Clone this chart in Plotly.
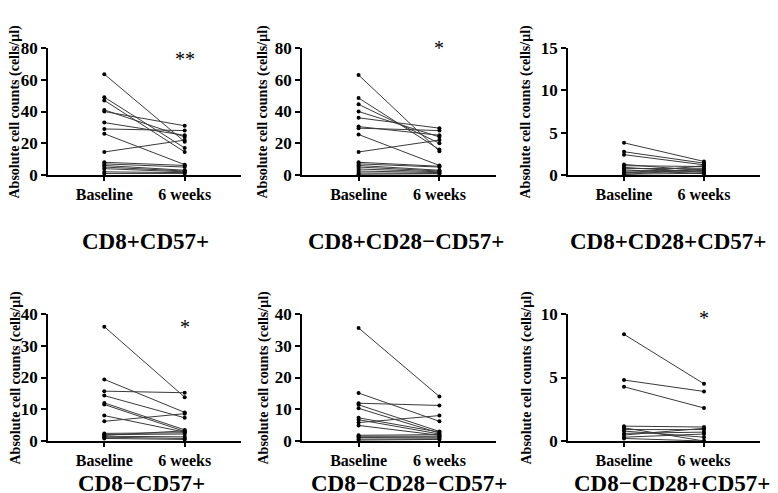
import plotly.graph_objects as go
from plotly.subplots import make_subplots

W, H = 778, 493

# paired counts, baseline vs 6 weeks (cells/ul)
categories = ["Baseline", "6 weeks"]

cd8p_cd57p_base = [63.5, 49, 47, 41, 40, 33, 29, 26, 14.5, 8, 7, 6, 5, 4, 2, 1]
cd8p_cd57p_wk6 = [21, 17, 14.5, 24, 31, 25, 28, 6.5, 22, 6, 5, 3, 2.5, 2, 1.5, 1]

cd8p_cd28n_cd57p_base = [63, 48.5, 44.5, 40, 36, 30.5, 29.5, 25.5, 14.5, 8, 7, 6, 5, 3.8, 2.5, 1.3, 0.5]
cd8p_cd28n_cd57p_wk6 = [15, 16, 20, 24, 29.5, 25, 28, 6, 22, 5.5, 5, 3, 2.5, 2, 1.5, 1, 0.8]

cd8p_cd28p_cd57p_base = [3.8, 2.75, 2.4, 1.25, 1.1, 0.9, 0.75, 0.6, 0.45, 0.3, 0.2, 0.1, 0.05]
cd8p_cd28p_cd57p_wk6 = [1.6, 1.4, 1.2, 0.5, 1.0, 0.3, 0.8, 0.15, 0.6, 0.4, 1.1, 0.2, 0.7]

cd8n_cd57p_base = [36, 19.4, 15.7, 14.3, 12, 11.5, 8, 6.2, 2.4, 2, 1.8, 1.5, 1.2, 0.8]
cd8n_cd57p_wk6 = [13.8, 9, 15.2, 7.3, 3.5, 3, 2.8, 8.6, 2.6, 2.2, 3.2, 1.3, 0.8, 0.5]

cd8n_cd28n_cd57p_base = [35.6, 15.1, 11.9, 11.4, 10.3, 7.3, 6.7, 5.8, 4.9, 1.8, 1.5, 1.1, 0.6, 0.3]
cd8n_cd28n_cd57p_wk6 = [14, 6.2, 11.2, 3, 2.5, 2.8, 2.2, 8, 1.8, 2, 1.5, 1.2, 0.7, 0.5]

cd8n_cd28p_cd57p_base = [8.4, 4.8, 4.27, 1.17, 1.04, 0.9, 0.78, 0.6, 0.47, 0.3, 0.2]
cd8n_cd28p_cd57p_wk6 = [4.5, 3.9, 2.6, 1.1, 0.0, 0.9, 0.3, 0.7, 1.0, 0.55, 0.0]

panel_titles = ["CD8+CD57+", "CD8+CD28\u2212CD57+", "CD8+CD28+CD57+",
                "CD8\u2212CD57+", "CD8\u2212CD28\u2212CD57+", "CD8\u2212CD28+CD57+"]
y_title = "Absolute cell counts (cells/\u03bcl)"
y_max = [80, 80, 15, 40, 40, 10]
y_dtick = [20, 20, 5, 10, 10, 5]
stars = ["**", "*", "", "*", "", "*"]
star_y = [73, 80, None, 36, None, 9.7]

panels = [
    (cd8p_cd57p_base, cd8p_cd57p_wk6),
    (cd8p_cd28n_cd57p_base, cd8p_cd28n_cd57p_wk6),
    (cd8p_cd28p_cd57p_base, cd8p_cd28p_cd57p_wk6),
    (cd8n_cd57p_base, cd8n_cd57p_wk6),
    (cd8n_cd28n_cd57p_base, cd8n_cd28n_cd57p_wk6),
    (cd8n_cd28p_cd57p_base, cd8n_cd28p_cd57p_wk6),
]

# pixel geometry of each panel
x_px = [(40, 233), (294, 488), (560, 752)]
y_px = [(40, 167), (306, 433)]
ytitle_x = [7, 255, 518]
title_pos = [(137, 247), (398, 247), (660, 247), (133, 489), (401, 489), (664, 489)]

FONT = "Times New Roman, Liberation Serif, DejaVu Serif, serif"

fig = make_subplots(rows=2, cols=3)

for k, (base, wk6) in enumerate(panels):
    r, c = k // 3 + 1, k % 3 + 1
    for b, w in zip(base, wk6):
        fig.add_trace(
            go.Scatter(
                x=[0, 1], y=[b, w], mode="lines+markers",
                line=dict(color="#3a3a3a", width=1),
                marker=dict(color="black", size=4),
                cliponaxis=False, showlegend=False, hoverinfo="skip",
            ),
            row=r, col=c,
        )

    x0, x1 = x_px[c - 1]
    ytop, ybot = y_px[r - 1]
    fig.update_xaxes(
        domain=[x0 / W, x1 / W], range=[-0.7, 1.7],
        tickvals=[0, 1], ticktext=categories,
        showline=True, linecolor="black", linewidth=1.5,
        ticks="outside", ticklen=4, tickwidth=1.5, tickcolor="black",
        showgrid=False, zeroline=False, automargin=False,
        tickfont=dict(family=FONT, size=16, color="black", weight="bold"),
        row=r, col=c,
    )
    fig.update_yaxes(
        domain=[1 - ybot / H, 1 - ytop / H], range=[0, y_max[k]], dtick=y_dtick[k],
        showline=True, linecolor="black", linewidth=1.5,
        ticks="outside", ticklen=5, tickwidth=1.5, tickcolor="black",
        showgrid=False, zeroline=False, automargin=False,
        tickfont=dict(family=FONT, size=17, color="black", weight="bold"),
        row=r, col=c,
    )

    # y-axis title as rotated annotation
    fig.add_annotation(
        x=ytitle_x[c - 1] / W, y=1 - (ytop + ybot) / 2 / H,
        xref="paper", yref="paper", showarrow=False, textangle=-90,
        xanchor="center", yanchor="middle", text=y_title,
        font=dict(family=FONT, size=14, color="black", weight="bold"),
    )

    tx, ty = title_pos[k]
    fig.add_annotation(
        x=tx / W, y=1 - ty / H, xref="paper", yref="paper", showarrow=False,
        xanchor="center", yanchor="bottom", borderpad=0,
        text=panel_titles[k],
        font=dict(family=FONT, size=23, color="black", weight="bold"),
    )
    if stars[k]:
        axn = "" if k == 0 else str(k + 1)
        fig.add_annotation(
            x=1, y=star_y[k], xref="x" + axn, yref="y" + axn, showarrow=False,
            xanchor="center", yanchor="middle",
            text=stars[k], font=dict(family=FONT, size=20, color="black"),
        )

fig.update_layout(
    width=W, height=H,
    margin=dict(l=0, r=0, t=0, b=0),
    font=dict(family=FONT, color="black"),
    plot_bgcolor="white", paper_bgcolor="white",
    showlegend=False,
)

fig.write_html("out.html")
